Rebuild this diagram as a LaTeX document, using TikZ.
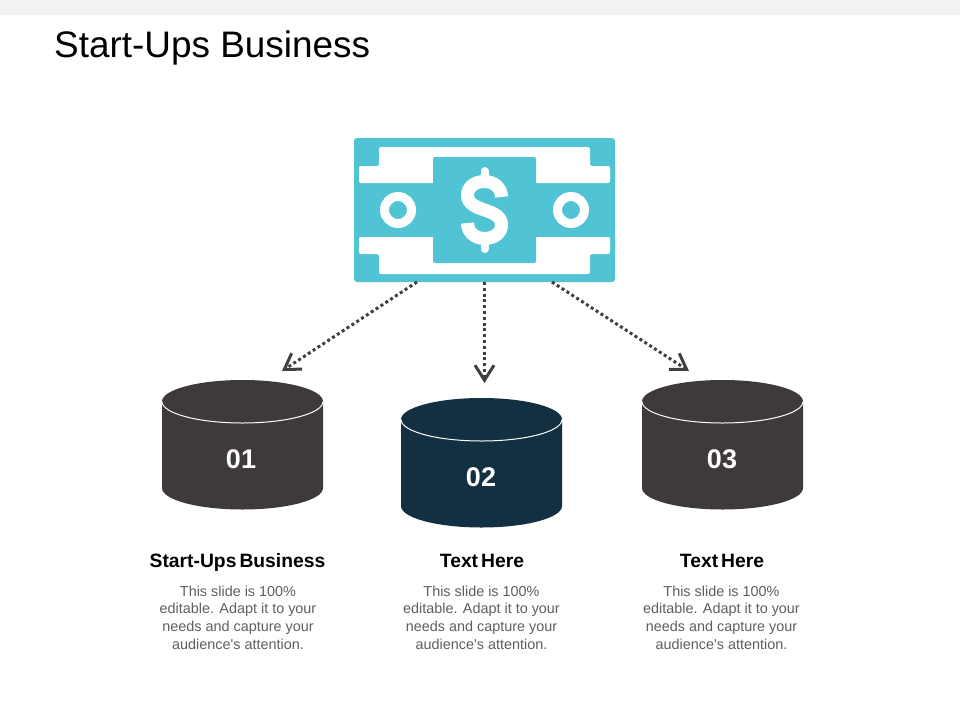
\documentclass[tikz,border=0pt]{standalone}
\usepackage{fontspec}
\setmainfont{Liberation Sans}
\usetikzlibrary{arrows.meta}
\definecolor{teal1}{HTML}{50C4D4}
\definecolor{dark1}{HTML}{3F3A3A}
\definecolor{navy1}{HTML}{123041}
\definecolor{arrow1}{HTML}{404040}
\definecolor{body1}{HTML}{5F5F5F}
\definecolor{band1}{HTML}{F2F2F2}
\tikzset{
  flow/.style={draw=arrow1,line width=3pt,dash pattern=on 3pt off 2.8pt,
    -{Straight Barb[length=15pt,width=19pt,line width=3pt]}},
  numlabel/.style={text=white,font=\fontsize{27}{27}\selectfont\bfseries,inner sep=0pt},
  headlabel/.style={text=black,font=\fontsize{19.3}{20}\selectfont\bfseries,inner sep=0pt,anchor=base},
  bodylabel/.style={text=body1,font=\fontsize{14.4}{17.6}\selectfont,align=center,inner sep=0pt},
  billbox/.style={fill=teal1,rounded corners=3pt,minimum width=261pt,minimum height=144pt,inner sep=0pt},
  rimline/.style={draw=white,line width=1pt}
}
\newcommand{\barrel}[3]{% left x, top centre y, colour
  \fill[#3] (#1,#2) -- ++(0,86.5)
    arc[start angle=180,end angle=360,x radius=80.5pt,y radius=21.5pt]
    -- ++(0,-86.5)
    arc[start angle=0,end angle=180,x radius=80.5pt,y radius=21.5pt] -- cycle;
  \draw[rimline] (#1,#2)
    arc[start angle=180,end angle=360,x radius=80.5pt,y radius=21.5pt];
}
\begin{document}
\begin{tikzpicture}[x=1pt,y=-1pt]
\useasboundingbox (0,0) rectangle (960,720);
\fill[white] (0,0) rectangle (960,720);
\fill[band1] (0,0) rectangle (960,15);
\node[anchor=base west,inner sep=0pt,font=\fontsize{36.9}{40}\selectfont] (title) at (54,57.5) {Start-Ups Business};

% bill
\node[billbox] (bill) at (484.5,210) {};
\fill[white,rounded corners=2pt] (379,147) -- (590,147) -- (590,166) -- (610,166) -- (610,183) -- (359,183) -- (359,166) -- (379,166) -- cycle;
\fill[white,rounded corners=2pt] (359,237) -- (610,237) -- (610,254) -- (590,254) -- (590,274) -- (379,274) -- (379,254) -- (359,254) -- cycle;
\fill[teal1,rounded corners=2pt] (433,157) rectangle (536,263);
\draw[white,line width=9pt] (398,210) circle[radius=13.5pt];
\draw[white,line width=9pt] (571,210) circle[radius=13.5pt];
\draw[white,line width=13pt] (501.5,197) .. controls (501.5,188) and (494,181.5) .. (484.5,181.5) .. controls (475,181.5) and (467.5,187) .. (467.5,195) .. controls (467.5,204) and (476,207) .. (484.5,210) .. controls (493,213) and (501.5,216) .. (501.5,225) .. controls (501.5,233) and (494,238.5) .. (484.5,238.5) .. controls (475,238.5) and (467.5,232) .. (467.5,223);
\draw[white,line width=8pt,line cap=round] (484.5,171) -- (484.5,178);
\draw[white,line width=8pt,line cap=round] (484.5,243) -- (484.5,249);

% barrels
\barrel{162}{401.5}{dark1}
\barrel{401}{419.5}{navy1}
\barrel{642}{401.5}{dark1}
\node[numlabel] (n1) at (241,459) {01};
\node[numlabel] (n2) at (481,477) {02};
\node[numlabel] (n3) at (722,459) {03};

% connectors
\coordinate (s1) at (417,282);
\coordinate (s2) at (484.5,282);
\coordinate (s3) at (552,282);
\coordinate (e1) at (282,371);
\coordinate (e2) at (484.5,383);
\coordinate (e3) at (689,371);
\draw[flow] (s1) -- (e1);
\draw[flow] (s2) -- (e2);
\draw[flow] (s3) -- (e3);

% labels
\node[headlabel] (h1) at (237.5,567.5) {Start-Ups\hspace{3pt}Business};
\node[headlabel] (h2) at (482,567.5) {Text\hspace{3pt}Here};
\node[headlabel] (h3) at (722,567.5) {Text\hspace{3pt}Here};
\node[bodylabel] (b1) at (238,617.5) {This slide is 100\%\\editable. Adapt it to your\\needs and capture your\\audience\textquotesingle s attention.};
\node[bodylabel] (b2) at (481.5,617.5) {This slide is 100\%\\editable. Adapt it to your\\needs and capture your\\audience\textquotesingle s attention.};
\node[bodylabel] (b3) at (721.5,617.5) {This slide is 100\%\\editable. Adapt it to your\\needs and capture your\\audience\textquotesingle s attention.};
\end{tikzpicture}
\end{document}
